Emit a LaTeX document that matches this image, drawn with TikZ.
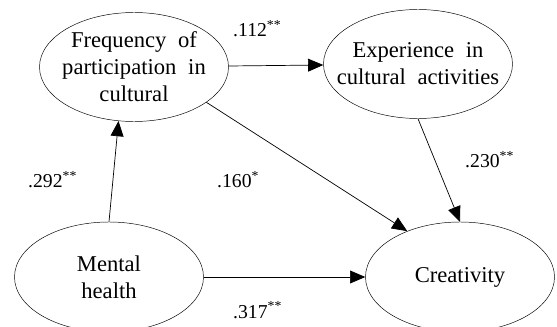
\documentclass[tikz,border=0pt]{standalone}
\usepackage{fontspec}
\setmainfont{Liberation Serif}
\usetikzlibrary{shapes.geometric, arrows.meta, positioning}

\begin{document}
\begin{tikzpicture}[
            var/.style={ellipse, draw, minimum width=5.67cm, minimum height=3.27cm, inner sep=0pt},
            vtxt/.style={align=center, font=\fontsize{19.3}{23}\selectfont, execute at begin node={\spaceskip=10pt}},
            coef/.style={anchor=base west, inner sep=0pt, font=\fontsize{16.8}{20}\selectfont},
            arrow/.style={-{Triangle[length=13pt, width=11pt]}, semithick}
        ]
            \useasboundingbox (0,0) rectangle (16.71,9.78);

% Variables
            \node[var] (freq) at (4.02,7.77) {};
            \node[vtxt] (freqtxt) at (freq) {Frequency of\\participation in\\cultural};
            \node[var] (exp) at (12.54,7.86) {};
            \node[vtxt] (exptxt) at (exp) {Experience in\\cultural activities};
            \node[var, minimum height=3.3cm] (mental) at (3.27,1.47) {};
            \node[vtxt] (mentaltxt) at (mental) {Mental\\health};
            \node[var, minimum height=3.3cm] (creat) at (13.8,1.47) {};
            \node[vtxt] (creattxt) at (creat) {Creativity};

% Paths
            \draw[arrow] (freq) -- (exp);
            \draw[arrow] (mental.north) -- (freq.254);
            \draw[arrow] (freq.-26) -- (creat.139);
            \draw[arrow] (exp.south) -- (creat.north);
            \draw[arrow] (mental) -- (creat);

% Coefficients
            \node[coef] (c112) at (6.99,8.67) {.112\textsuperscript{**}};
            \node[coef] (c230) at (13.95,4.74) {.230\textsuperscript{**}};
            \node[coef] (c292) at (0.84,4.14) {.292\textsuperscript{**}};
            \node[coef] (c160) at (6.51,4.14) {.160\textsuperscript{*}};
            \node[coef] (c317) at (6.99,0.24) {.317\textsuperscript{**}};

        \end{tikzpicture}
\end{document}
